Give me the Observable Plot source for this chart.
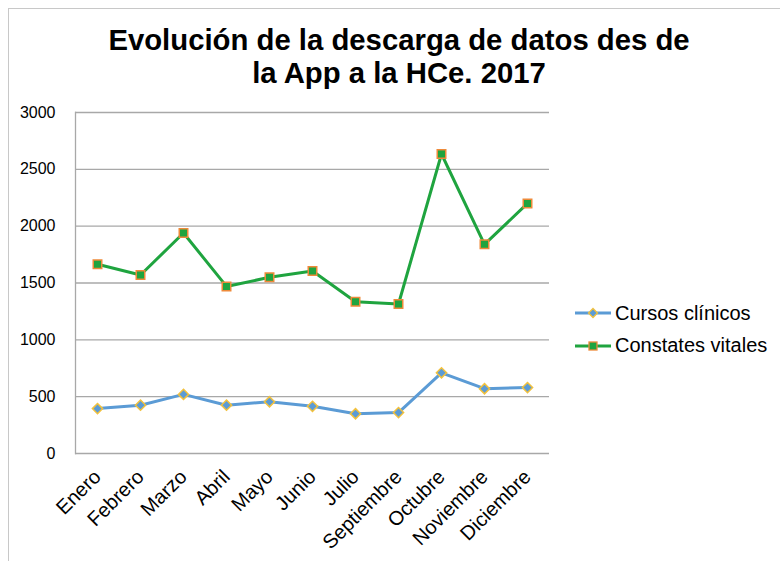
<!DOCTYPE html>
<html><head><meta charset="utf-8">
<script src="https://cdn.jsdelivr.net/npm/d3@7"></script>
<script src="https://cdn.jsdelivr.net/npm/@observablehq/plot@0.6"></script>
<style>
body{margin:0;background:#fff;}
#wrap{position:relative;width:780px;height:561px;overflow:hidden;font-family:"Liberation Sans",Arial,sans-serif;background:#fff;}
#border{position:absolute;left:8px;top:8px;width:800px;height:600px;border-left:1.5px solid #c8c8c8;border-top:1.5px solid #c8c8c8;}
#title{position:absolute;left:0;top:23px;width:798px;text-align:center;font-weight:bold;font-size:29.3px;line-height:33px;color:#000;}
#chart{position:absolute;left:0;top:100px;}
#legend{position:absolute;left:574px;top:297px;font-size:20px;color:#000;}
.item{display:flex;align-items:center;height:32.5px;}
.item svg{margin-right:3px;}
</style>
</head><body>
<div id="wrap">
  <div id="border"></div>
  <div id="title">Evolución de la descarga de datos des de<br>la App a la HCe. 2017</div>
  <div id="chart"></div>
  <div id="legend"></div>
</div>
<script>
const months = ["Enero","Febrero","Marzo","Abril","Mayo","Junio","Julio","Septiembre","Octubre","Noviembre","Diciembre"];
const cursos = [395,425,520,425,455,415,350,360,710,570,580];
const constantes = [1665,1570,1940,1470,1550,1605,1335,1315,2635,1840,2200];
const yTicks = [0,500,1000,1500,2000,2500,3000];
const seriesNames = ["Cursos clínicos","Constates vitales"];

const blue = "#5b9bd5", blueMarker = "#f2c13d";
const green = "#1fa43f", greenMarker = "#ee8a3a";

const dCursos = months.map((m,i)=>({month:m, value:cursos[i]}));
const dConst = months.map((m,i)=>({month:m, value:constantes[i]}));

const chart = Plot.plot({
  width:780, height:461,
  marginTop:12, marginBottom:108, marginLeft:75, marginRight:231,
  style:{fontFamily:"'Liberation Sans', Arial, sans-serif", color:"#000", background:"transparent", overflow:"visible"},
  x:{type:"point", domain:months, padding:0.5, label:null},
  y:{domain:[0,3000], label:null},
  marks:[
    Plot.gridY(yTicks, {stroke:"#a8a8a8", strokeOpacity:1, strokeWidth:1.3}),
    Plot.frame({anchor:"left", stroke:"#a8a8a8", strokeWidth:1.3}),
    Plot.axisY(yTicks, {tickSize:0, tickPadding:20, fontSize:16, tickFormat:d=>String(d), label:null}),
    Plot.axisX({tickSize:0, tickRotate:-45, tickPadding:20, fontSize:20, label:null}),
    Plot.line(dCursos, {x:"month", y:"value", stroke:blue, strokeWidth:3}),
    Plot.dot(dCursos, {x:"month", y:"value", symbol:"diamond2", r:4.6, fill:blue, stroke:blueMarker, strokeWidth:1.5}),
    Plot.line(dConst, {x:"month", y:"value", stroke:green, strokeWidth:3}),
    Plot.dot(dConst, {x:"month", y:"value", symbol:"square", r:4.8, fill:green, stroke:greenMarker, strokeWidth:1.5})
  ]
});
document.getElementById("chart").appendChild(chart);

const legend = document.getElementById("legend");
const specs = [
  {name:seriesNames[0], line:blue, fill:blue, stroke:blueMarker, sym:"diamond"},
  {name:seriesNames[1], line:green, fill:green, stroke:greenMarker, sym:"square"}
];
specs.forEach(s=>{
  const row = document.createElement("div");
  row.className="item";
  const shape = s.sym==="diamond"
    ? `<path d="M19,3.5 L23.5,8 L19,12.5 L14.5,8 Z" fill="${s.fill}" stroke="${s.stroke}" stroke-width="1.3"/>`
    : `<rect x="15" y="4" width="8" height="8" fill="${s.fill}" stroke="${s.stroke}" stroke-width="1.3"/>`;
  row.innerHTML = `<svg width="38" height="16"><line x1="1" y1="8" x2="37" y2="8" stroke="${s.line}" stroke-width="3"/>${shape}</svg><span>${s.name}</span>`;
  legend.appendChild(row);
});
</script>
</body></html>
